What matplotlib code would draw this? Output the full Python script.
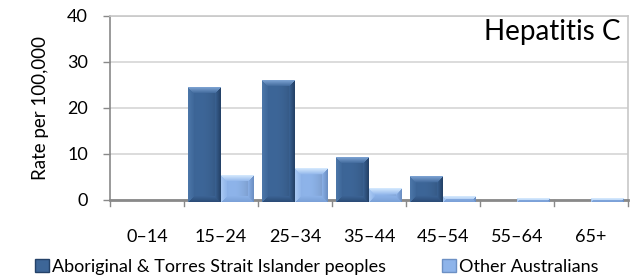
import matplotlib
matplotlib.use("Agg")
import matplotlib.pyplot as plt
import numpy as np
from matplotlib.patches import Patch

categories = ["0\u201314", "15\u201324", "25\u201334", "35\u201344", "45\u201354", "55\u201364", "65+"]
aboriginal = [0.0, 24.5, 26.0, 9.3, 5.0, 0.0, 0.0]
other = [0.0, 5.4, 6.8, 2.4, 0.8, 0.4, 0.4]
series_names = ["Aboriginal & Torres Strait Islander peoples", "Other Australians"]
title = "Hepatitis C"
ylabel = "Rate per 100,000"

plt.rcParams['font.family'] = ['Lato', 'DejaVu Sans']

W_PX, H_PX = 634, 276
fig = plt.figure(figsize=(W_PX / 100, H_PX / 100), dpi=100)
ax_l, ax_b, ax_w, ax_h = 110, 200, 518, 184
ax = fig.add_axes([ax_l / W_PX, 1 - ax_b / H_PX, ax_w / W_PX, ax_h / H_PX])

x = np.arange(len(categories))
w = 0.44
base = -0.45
ymax = 40.0
px_per_unit = ax_h / ymax
px_per_cat = ax_w / len(categories)

dark = dict(body=np.array([0x3D, 0x66, 0x98]) / 255, top=np.array([0x7A, 0xA0, 0xD0]) / 255,
            left=np.array([0x4C, 0x76, 0xA8]) / 255, right=np.array([0x24, 0x42, 0x68]) / 255,
            bottom=np.array([0x2C, 0x4D, 0x78]) / 255)
light = dict(body=np.array([0x8E, 0xB4, 0xEA]) / 255, top=np.array([0xD2, 0xE7, 0xFD]) / 255,
             left=np.array([0xA8, 0xC8, 0xF3]) / 255, right=np.array([0x6C, 0x90, 0xC4]) / 255,
             bottom=np.array([0x7C, 0xA2, 0xD8]) / 255)


def bar_image(hp, wp, pal, b=6):
    hp = max(int(round(hp)), 2)
    wp = max(int(round(wp)), 2)
    r = np.arange(hp)[:, None] * np.ones((1, wp))
    c = np.ones((hp, 1)) * np.arange(wp)[None, :]
    d_top = r
    d_bot = hp - 1 - r
    d_left = c
    d_right = wp - 1 - c
    img = np.ones((hp, wp, 3)) * pal['body']
    prof = 1.0 - 0.12 * ((c / (wp - 1)) - 0.35) ** 2 * 4
    img = img * prof[..., None]
    dmin = np.minimum.reduce([d_top, d_bot, d_left, d_right])
    for name, d in (('bottom', d_bot), ('left', d_left), ('right', d_right), ('top', d_top)):
        mask = (d == dmin) & (d < b)
        t = (d / b)[..., None]
        col = pal[name] * (1 - t) + pal['body'] * t
        img = np.where(mask[..., None], col, img)
    return np.clip(img, 0, 1)


def draw(xs, vals, pal):
    for xi, v in zip(xs, vals):
        if v <= 0:
            continue
        hp = (v - base) * px_per_unit
        wp = w * px_per_cat
        img = bar_image(hp, wp, pal)
        ax.imshow(img, extent=[xi - w / 2, xi + w / 2, base, v], aspect='auto',
                  interpolation='bilinear', zorder=3, clip_on=False)


draw(x - w / 2, aboriginal, dark)
draw(x + w / 2, other, light)

ax.set_xlim(-0.5, len(categories) - 0.5)
ax.set_ylim(0, ymax)
ax.set_yticks([0, 10, 20, 30, 40])
ax.yaxis.grid(True, color="#D9D9D9", linewidth=1.3, zorder=0)
ax.set_axisbelow(True)
ax.tick_params(axis='y', length=5, width=1, color="#898989", labelsize=13, pad=11)
ax.set_xticks(x)
ax.set_xticklabels(categories)
ax.tick_params(axis='x', length=0, labelsize=13, pad=21)
for bnd in np.arange(-0.5, len(categories), 1.0):
    ax.plot([bnd, bnd], [0, -1.3], color="#898989", lw=1, clip_on=False, zorder=5)

for s in ['top', 'right']:
    ax.spines[s].set_color("#C8C8C8")
    ax.spines[s].set_linewidth(1.2)
ax.spines['left'].set_color("#898989")
ax.spines['left'].set_linewidth(1.2)
ax.spines['bottom'].set_color("#898989")
ax.spines['bottom'].set_linewidth(2)
ax.spines['bottom'].set_zorder(2.5)

ax.set_ylabel(ylabel, fontsize=13.5, labelpad=13)
ax.text(0.985, 0.985, title, transform=ax.transAxes, ha='right', va='top', fontsize=20)

handles = [Patch(facecolor=dark['body'], edgecolor=dark['right']),
           Patch(facecolor=light['body'], edgecolor=light['right'])]
fig.legend(handles, series_names, loc='lower center', bbox_to_anchor=(0.5, -0.055), ncol=2,
           frameon=False, fontsize=13, handlelength=0.75, handleheight=0.75,
           handletextpad=0.2, columnspacing=3.1)

fig.savefig("out.png", dpi=100)
